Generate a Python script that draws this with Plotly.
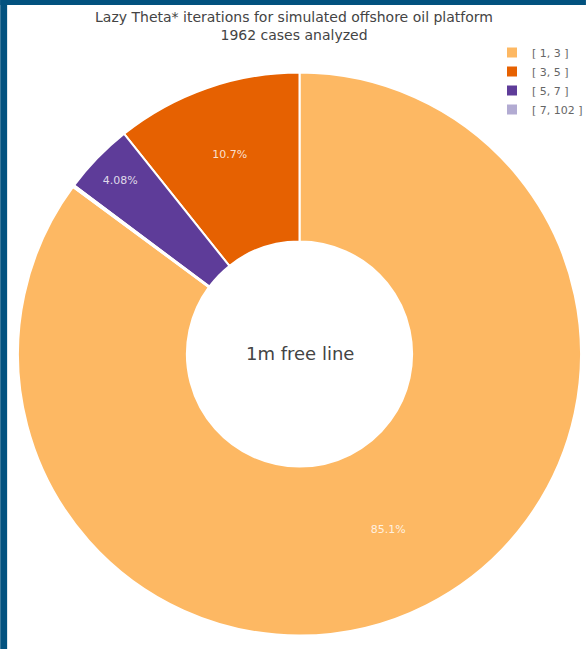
import plotly.graph_objects as go

# Lazy Theta* iteration counts, binned
bins = ["[ 1, 3 ]", "[ 3, 5 ]", "[ 5, 7 ]", "[ 7, 102 ]"]
cases = [1670, 210, 80, 2]
colors = ["#fdb863", "#e66101", "#5e3c99", "#b2abd2"]

total_cases = sum(cases)
font_family = "Verdana, DejaVu Sans, sans-serif"

W, H = 588, 649
ML, MR, MT, MB = 18, 0, 30, 9
PW, PH = W - ML - MR, H - MT - MB
PIE_SIZE = 572  # donut domain height in px


def px_x(px):
    return (px - ML) / PW


def px_y(py):
    return 1 - (py - MT) / PH


fig = go.Figure(
    go.Pie(
        labels=bins,
        values=cases,
        hole=0.4,
        domain=dict(x=[0, 1], y=[0, PIE_SIZE / PH]),
        marker=dict(colors=colors, line=dict(color="white", width=2)),
        textinfo="percent",
        textposition="inside",
        insidetextorientation="horizontal",
        textfont=dict(family=font_family, size=11, color="rgba(255,255,255,0.82)"),
    )
)

border = "#02527f"
fig.update_layout(
    width=W,
    height=H,
    margin=dict(l=ML, r=MR, t=MT, b=MB),
    paper_bgcolor="white",
    font=dict(family=font_family, color="#444"),
    title=dict(
        text=f"Lazy Theta* iterations for simulated offshore oil platform<br>{total_cases} cases analyzed",
        x=0.5,
        xref="container",
        xanchor="center",
        y=1 - 22 / H,
        yref="container",
        yanchor="top",
        font=dict(size=14, color="#444"),
    ),
    legend=dict(
        x=px_x(498),
        y=px_y(38),
        xanchor="left",
        yanchor="top",
        font=dict(size=11, color="#666"),
        itemwidth=30,
    ),
    annotations=[
        dict(
            text="1m free line",
            x=0.5,
            y=px_y(MT + PH - PIE_SIZE / 2),
            xref="paper",
            yref="paper",
            showarrow=False,
            font=dict(size=18, color="#444"),
        )
    ],
    shapes=[
        dict(type="rect", xref="paper", yref="paper",
             x0=px_x(0), x1=px_x(7), y0=px_y(H + 5), y1=px_y(-5),
             fillcolor=border, line=dict(width=0), layer="above"),
        dict(type="rect", xref="paper", yref="paper",
             x0=px_x(0), x1=px_x(W + 5), y0=px_y(5), y1=px_y(-5),
             fillcolor=border, line=dict(width=0), layer="above"),
    ],
)

fig.write_html("out.html")
